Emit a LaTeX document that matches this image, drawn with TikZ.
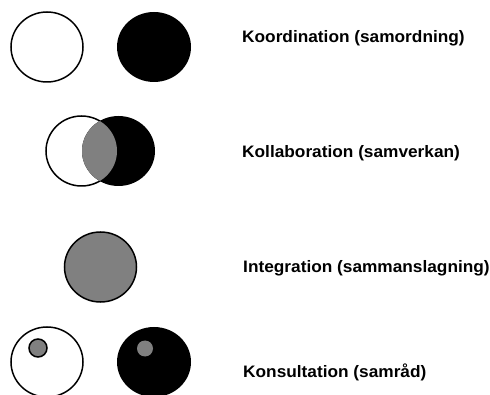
\documentclass[tikz,border=0pt]{standalone}
\usepackage{fontspec}
\setmainfont{Liberation Sans}
\newfontfamily\labfont{Liberation Sans Bold}[FakeStretch=1.04]
\definecolor{midgray}{HTML}{808080}
\begin{document}
\begin{tikzpicture}[x=1pt,y=-1pt,
  outl/.style={line width=1.5pt,draw=black},
  lab/.style={anchor=base west,inner sep=0pt,font=\labfont\fontsize{16.6}{19}\selectfont}]
\useasboundingbox (0,0) rectangle (490,395);
% Koordination
\draw[outl,fill=white] (47,47) ellipse [x radius=36pt,y radius=35pt];
\fill[black] (154,47) ellipse [x radius=37pt,y radius=35pt];
% Kollaboration
\draw[outl,fill=white] (81.5,151) ellipse [x radius=35.5pt,y radius=35pt];
\fill[black] (118.5,151) ellipse [x radius=36.5pt,y radius=35pt];
\begin{scope}
  \clip (81.5,151) ellipse [x radius=35.5pt,y radius=35pt];
  \fill[midgray] (118.5,151) ellipse [x radius=36.5pt,y radius=35pt];
\end{scope}
% Integration
\draw[outl,fill=midgray] (100.5,267) ellipse [x radius=36pt,y radius=35pt];
% Konsultation
\draw[outl,fill=white] (47,362) ellipse [x radius=36pt,y radius=35pt];
\draw[outl,fill=midgray] (38,348) circle [radius=9pt];
\fill[black] (154,362) ellipse [x radius=37pt,y radius=35pt];
\fill[midgray] (145,348.5) circle [radius=8pt];
% labels
\node[lab] (koord) at (242,42.5) {Koordination (samordning)};
\node[lab] (koll) at (242,157.5) {Kollaboration (samverkan)};
\node[lab] (integ) at (243,272.5) {Integration (sammanslagning)};
\node[lab] (kons) at (243,377.5) {Konsultation (samråd)};
\end{tikzpicture}
\end{document}
